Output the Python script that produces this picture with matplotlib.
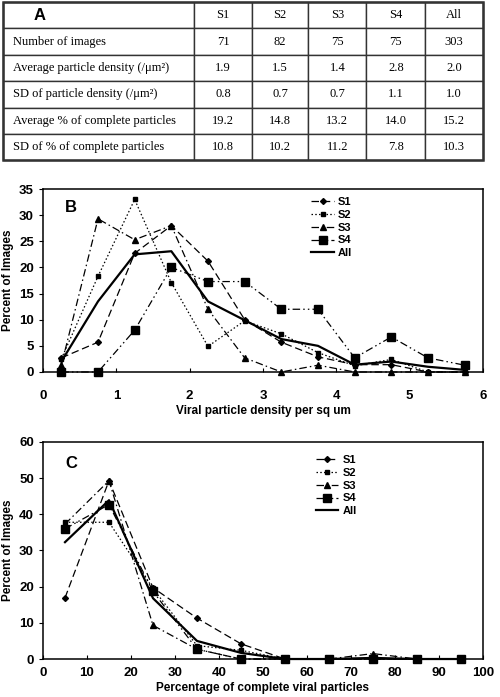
import matplotlib.pyplot as plt

plt.rcParams["font.family"] = ["Liberation Sans", "DejaVu Sans"]

# ---- table (panel A) ----
col_labels = ["S1", "S2", "S3", "S4", "All"]
row_labels = [
    "Number of images",
    "Average particle density (/μm²)",
    "SD of particle density (/μm²)",
    "Average % of complete particles",
    "SD of % of complete particles",
]
table_values = [
    ["71", "82", "75", "75", "303"],
    ["1.9", "1.5", "1.4", "2.8", "2.0"],
    ["0.8", "0.7", "0.7", "1.1", "1.0"],
    ["19.2", "14.8", "13.2", "14.0", "15.2"],
    ["10.8", "10.2", "11.2", "7.8", "10.3"],
]

# ---- panel B: density distribution ----
density_x = [0.25, 0.75, 1.25, 1.75, 2.25, 2.75, 3.25, 3.75, 4.25, 4.75, 5.25, 5.75]
dens_s1 = [2.7, 5.7, 22.7, 28.0, 21.2, 10.0, 5.7, 2.9, 1.4, 1.4, 0.0, 0.0]
dens_s2 = [2.5, 18.3, 33.0, 17.1, 4.9, 9.8, 7.3, 3.7, 1.2, 2.4, 0.0, 0.0]
dens_s3 = [1.3, 29.3, 25.3, 28.0, 12.0, 2.7, 0.0, 1.3, 0.0, 0.0, 0.0, 0.0]
dens_s4 = [0.0, 0.0, 8.0, 20.0, 17.3, 17.3, 12.0, 12.0, 2.7, 6.7, 2.7, 1.3]
dens_all = [2.0, 13.5, 22.5, 23.1, 13.5, 9.9, 6.3, 5.0, 1.4, 2.0, 1.0, 0.4]

# ---- panel C: % complete particles distribution ----
pct_x = [5, 15, 25, 35, 45, 55, 65, 75, 85, 95]
pct_s1 = [16.9, 49.3, 19.7, 11.3, 4.2, 0.0, 0.0, 0.0, 0.0, 0.0]
pct_s2 = [37.8, 37.8, 19.5, 3.7, 2.4, 0.0, 0.0, 0.0, 0.0, 0.0]
pct_s3 = [37.3, 49.3, 9.3, 2.7, 0.0, 0.0, 0.0, 1.5, 0.0, 0.0]
pct_s4 = [36.0, 42.7, 18.7, 2.7, 0.0, 0.0, 0.0, 0.0, 0.0, 0.0]
pct_all = [32.3, 43.9, 16.8, 5.0, 1.7, 0.0, 0.0, 0.3, 0.0, 0.0]

series_styles = [
    ("S1", dict(linestyle=(0, (6, 3)), marker="D", markersize=3.0)),
    ("S2", dict(linestyle=(0, (1.2, 1.8)), marker="s", markersize=3.2)),
    ("S3", dict(linestyle=(0, (6, 2.5, 1.2, 2.5)), marker="^", markersize=4.0)),
    ("S4", dict(linestyle=(0, (6, 2.5, 1.2, 2.5, 1.2, 2.5)), marker="s", markersize=5.5)),
    ("All", dict(linestyle="-", marker=None, linewidth=1.6)),
]

fig = plt.figure(figsize=(5.0, 6.97), dpi=100)

# table
ax_t = fig.add_axes([0.006, 0.770, 0.960, 0.227])
ax_t.axis("off")
cell_text = [["A"] + col_labels] + [[r] + v for r, v in zip(row_labels, table_values)]
col_widths = [0.398, 0.121, 0.117, 0.121, 0.123, 0.120]
tbl = ax_t.table(cellText=cell_text, colWidths=col_widths, bbox=[0, 0, 1, 1], cellLoc="center")
tbl.auto_set_font_size(False)
for (r, c), cell in tbl.get_celld().items():
    cell.set_linewidth(1.0)
    cell.set_edgecolor("#333333")
    txt = cell.get_text()
    txt.set_fontfamily(["Liberation Serif", "DejaVu Serif"])
    txt.set_fontsize(9)
    if c == 0:
        cell.set_text_props(ha="left")
        cell.PAD = 0.05
    if r == 0 and c == 0:
        txt.set_fontfamily(["Liberation Sans", "DejaVu Sans"])
        txt.set_fontweight("bold")
        txt.set_fontsize(12)
        cell.PAD = 0.16
ax_t.add_patch(plt.Rectangle((0, 0), 1, 1, transform=ax_t.transAxes, fill=False,
                             lw=1.8, ec="#333333", clip_on=False))


def draw_panel(ax, xs, ys_list, xlim, ylim, xticks, yticks, xlabel, letter,
               leg_anchor, xpad):
    for (name, style), ys in zip(series_styles, ys_list):
        kw = dict(color="black", linewidth=0.9, markerfacecolor="black",
                  markeredgecolor="black")
        kw.update(style)
        ax.plot(xs, ys, label=name, clip_on=False, zorder=3, **kw)
    ax.set_xlim(*xlim)
    ax.set_ylim(*ylim)
    ax.set_xticks(xticks)
    ax.set_yticks(yticks)
    ax.tick_params(axis="x", direction="in", length=3, width=0.8, labelsize=9.5, pad=xpad)
    ax.tick_params(axis="y", direction="out", length=3, width=0.8, labelsize=9.5)
    for lab in ax.get_xticklabels() + ax.get_yticklabels():
        lab.set_fontweight("bold")
    for sp in ax.spines.values():
        sp.set_linewidth(1.1)
    ax.set_xlabel(xlabel, fontsize=8.5, fontweight="bold", labelpad=2)
    ax.set_ylabel("Percent of Images", fontsize=8.5, fontweight="bold", labelpad=4)
    ax.text(0.05, 0.90, letter, transform=ax.transAxes, fontsize=12,
            fontweight="bold", va="center")
    leg = ax.legend(loc="upper left", bbox_to_anchor=leg_anchor, frameon=False,
                    fontsize=8, handlelength=2.0, handletextpad=0.4,
                    labelspacing=0.25, borderaxespad=0)
    for t in leg.get_texts():
        t.set_fontweight("bold")


ax_b = fig.add_axes([0.086, 0.4663, 0.880, 0.2625])
draw_panel(ax_b, density_x, [dens_s1, dens_s2, dens_s3, dens_s4, dens_all],
           (0, 6), (0, 35), range(0, 7), range(0, 36, 5),
           "Viral particle density per sq um", "B", (0.60, 0.98), 13)

ax_c = fig.add_axes([0.086, 0.0545, 0.880, 0.3114])
draw_panel(ax_c, pct_x, [pct_s1, pct_s2, pct_s3, pct_s4, pct_all],
           (0, 100), (0, 60), range(0, 101, 10), range(0, 61, 10),
           "Percentage of complete viral particles", "C", (0.61, 0.96), 6)

fig.savefig("out.png", dpi=100)
